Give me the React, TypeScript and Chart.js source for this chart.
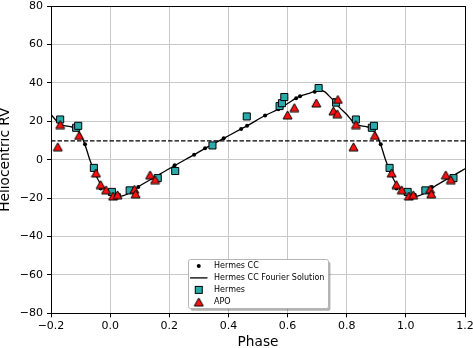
import React, { useEffect, useRef } from 'react';
import { Chart, registerables } from 'chart.js';

Chart.register(...registerables);

const xTickValues = [-0.2, 0, 0.2, 0.4, 0.6, 0.8, 1.0, 1.2];
const yTickValues = [-80, -60, -40, -20, 0, 20, 40, 60, 80];
const systemicRV = 9.8;

const ccPhase = [-0.085, -0.032, 0.03, 0.095, 0.218, 0.284, 0.321, 0.384, 0.443, 0.463, 0.524, 0.569, 0.629, 0.642, 0.692, 0.757, 0.915, 0.968, 1.03, 1.088];
const ccRV = [8.0, -15.0, -18.3, -14.2, -2.9, 2.6, 5.9, 11.1, 16.0, 17.6, 23.0, 26.3, 32.0, 33.0, 35.4, 31.0, 8.0, -15.0, -18.3, -14.2];

const fitPhase = [-0.2, -0.185, -0.17, -0.15, -0.13, -0.115, -0.1, -0.085, -0.07, -0.057, -0.045, -0.03, -0.013, 0.005, 0.022, 0.045, 0.07, 0.095, 0.15, 0.22, 0.284, 0.321, 0.384, 0.443, 0.463, 0.524, 0.569, 0.6, 0.629, 0.642, 0.67, 0.692, 0.71, 0.725, 0.74, 0.757, 0.775, 0.8, 0.815, 0.83, 0.85, 0.87, 0.885, 0.9, 0.915, 0.93, 0.943, 0.955, 0.97, 0.987, 1.005, 1.022, 1.045, 1.07, 1.095, 1.15, 1.2];
const fitRV = [23.5, 20.8, 18.6, 17.6, 17.0, 16.3, 13.0, 7.8, 0.5, -4.8, -9.2, -13.3, -16.2, -18.3, -19.2, -18.7, -17.0, -14.2, -9.2, -2.9, 2.6, 5.9, 11.1, 16.0, 17.6, 23.0, 26.3, 29.2, 32.0, 33.0, 34.4, 35.5, 36.0, 35.4, 33.2, 30.5, 27.2, 23.5, 20.8, 18.6, 17.6, 17.0, 16.3, 13.0, 7.8, 0.5, -4.8, -9.2, -13.3, -16.2, -18.3, -19.2, -18.7, -17.0, -14.2, -9.2, -4.8];

const hermesPhase = [-0.169, -0.115, -0.108, -0.055, 0.006, 0.066, 0.161, 0.22, 0.346, 0.462, 0.573, 0.581, 0.589, 0.705, 0.764, 0.831, 0.885, 0.892, 0.945, 1.006, 1.066, 1.161];
const hermesRV = [20.9, 16.6, 17.6, -4.3, -16.8, -16.0, -9.6, -5.9, 7.4, 22.5, 27.9, 29.4, 32.6, 37.3, 29.7, 20.9, 16.6, 17.6, -4.3, -16.8, -16.0, -9.6];

const apoPhase = [-0.177, -0.169, -0.105, -0.048, -0.032, -0.014, 0.01, 0.025, 0.082, 0.086, 0.135, 0.152, 0.6, 0.623, 0.697, 0.755, 0.768, 0.77, 0.823, 0.831, 0.895, 0.952, 0.968, 0.986, 1.01, 1.025, 1.082, 1.086, 1.135, 1.152];
const apoRV = [6.7, 18.3, 12.6, -6.9, -13.0, -15.7, -18.9, -18.3, -15.4, -17.8, -7.9, -10.4, 23.3, 27.1, 29.5, 25.4, 23.9, 31.4, 6.7, 18.3, 12.6, -6.9, -13.0, -15.7, -18.9, -18.3, -15.4, -17.8, -7.9, -10.4];

const legendLabels = ['Hermes CC', 'Hermes CC Fourier Solution', 'Hermes', 'APO'];

const FONT = "'DejaVu Sans', 'Liberation Sans', sans-serif";
const TEAL = '#2aaaaa';
const RED = '#ff1010';

function makeTriangle(): HTMLCanvasElement {
  const c = document.createElement('canvas');
  c.width = 11;
  c.height = 10;
  const g = c.getContext('2d')!;
  g.beginPath();
  g.moveTo(5.5, 1);
  g.lineTo(10, 9);
  g.lineTo(1, 9);
  g.closePath();
  g.fillStyle = RED;
  g.fill();
  g.lineWidth = 1;
  g.strokeStyle = '#000';
  g.lineJoin = 'miter';
  g.stroke();
  return c;
}

const zip = (xs: number[], ys: number[]) => xs.map((x, i) => ({ x, y: ys[i] }));
const fmt = (v: number, d: number) => {
  const s = Math.abs(v).toFixed(d);
  return v < -1e-9 ? '\u2212' + s : s;
};

export default function App() {
  const ref = useRef<HTMLCanvasElement | null>(null);

  useEffect(() => {
    if (!ref.current) return;
    const tri = makeTriangle();

    const spinePlugin = {
      id: 'spines',
      afterDatasetsDraw(chart: any) {
        const { ctx, chartArea: a } = chart;
        const al = (p: number) => Math.round(p - 0.5) + 0.5;
        ctx.save();
        ctx.strokeStyle = '#000';
        ctx.lineWidth = 1;
        const l = al(a.left), r = al(a.right), t = al(a.top), b = al(a.bottom);
        ctx.strokeRect(l, t, r - l, b - t);
        ctx.restore();
      },
    };

    const legendPlugin = {
      id: 'mplLegend',
      afterDraw(chart: any) {
        const { ctx, chartArea: a } = chart;
        ctx.save();
        ctx.font = `8px ${FONT}`;
        const textW = Math.max(...legendLabels.map((l) => ctx.measureText(l).width));
        const padL = 2, handleLen = 17.4, gap = 6.6, padR = 3.5;
        const w = padL + handleLen + gap + textW + padR;
        const h = 49;
        const x0 = (a.left + a.right) / 2 - w / 2;
        const y0 = a.bottom - 5 - h;
        // shadow
        ctx.fillStyle = 'rgba(0,0,0,0.3)';
        ctx.beginPath();
        ctx.roundRect(x0 + 2.5, y0 + 2.5, w, h, 2);
        ctx.fill();
        // box
        ctx.fillStyle = '#ffffff';
        ctx.strokeStyle = '#b5b5b5';
        ctx.lineWidth = 1;
        ctx.beginPath();
        ctx.roundRect(Math.round(x0) + 0.5, Math.round(y0) + 0.5, Math.round(w), Math.round(h), 2);
        ctx.fill();
        ctx.stroke();
        const hx = x0 + padL + handleLen / 2;
        const tx = x0 + padL + handleLen + gap;
        legendLabels.forEach((label, i) => {
          const cy = y0 + 6.6 + i * 12;
          if (i === 0) {
            ctx.fillStyle = '#000';
            ctx.beginPath();
            ctx.arc(hx, cy, 2, 0, Math.PI * 2);
            ctx.fill();
          } else if (i === 1) {
            ctx.strokeStyle = '#000';
            ctx.lineWidth = 1.3;
            ctx.beginPath();
            ctx.moveTo(x0 + padL, cy);
            ctx.lineTo(x0 + padL + handleLen, cy);
            ctx.stroke();
          } else if (i === 2) {
            ctx.fillStyle = TEAL;
            ctx.strokeStyle = '#000';
            ctx.lineWidth = 1;
            ctx.fillRect(hx - 3.5, cy - 3.5, 7, 7);
            ctx.strokeRect(hx - 3.5, cy - 3.5, 7, 7);
          } else {
            ctx.drawImage(tri, hx - tri.width / 2, cy - tri.height / 2);
          }
          ctx.fillStyle = '#000';
          ctx.textAlign = 'left';
          ctx.textBaseline = 'middle';
          ctx.fillText(label, tx, cy + 0.5);
        });
        ctx.restore();
      },
    };

    const chart = new Chart(ref.current, {
      type: 'scatter',
      data: {
        datasets: [
          {
            label: 'APO',
            data: zip(apoPhase, apoRV),
            pointStyle: tri as any,
            pointRadius: 5,
            showLine: false,
            order: 0,
          },
          {
            label: 'Hermes',
            data: zip(hermesPhase, hermesRV),
            pointStyle: 'rect',
            pointRadius: 5,
            backgroundColor: TEAL,
            borderColor: '#000',
            borderWidth: 1,
            showLine: false,
            order: 1,
          },
          {
            label: 'Hermes CC Fourier Solution',
            data: zip(fitPhase, fitRV),
            showLine: true,
            pointRadius: 0,
            borderColor: '#000',
            borderWidth: 1.3,
            cubicInterpolationMode: 'monotone',
            order: 2,
          } as any,
          {
            label: 'Hermes CC',
            data: zip(ccPhase, ccRV),
            pointStyle: 'circle',
            pointRadius: 2,
            backgroundColor: '#000',
            borderColor: '#000',
            borderWidth: 0,
            showLine: false,
            order: 3,
          },
          {
            label: 'systemic',
            data: [
              { x: xTickValues[0], y: systemicRV },
              { x: xTickValues[xTickValues.length - 1], y: systemicRV },
            ],
            showLine: true,
            pointRadius: 0,
            borderColor: '#000',
            borderWidth: 1.2,
            borderDash: [4.5, 2],
            order: 4,
          },
        ],
      },
      options: {
        animation: false,
        responsive: true,
        maintainAspectRatio: false,
        events: [],
        layout: { padding: { top: 4.7, right: 8, bottom: 0, left: 0 } },
        plugins: { legend: { display: false }, tooltip: { enabled: false } },
        scales: {
          x: {
            type: 'linear',
            min: xTickValues[0],
            max: xTickValues[xTickValues.length - 1],
            afterBuildTicks: (s: any) => {
              s.ticks = xTickValues.map((v) => ({ value: v }));
            },
            afterFit: (s: any) => {
              s.height = 34.7;
              s.paddingLeft = 0;
              s.paddingRight = 0;
            },
            grid: { color: '#c8c8c8', lineWidth: 1, tickColor: '#000', tickLength: 4, drawTicks: true },
            border: { display: false },
            ticks: {
              color: '#000',
              padding: 2,
              maxRotation: 0,
              autoSkip: false,
              font: { family: FONT, size: 11 },
              callback: (v: any) => fmt(Number(v), 1),
            },
            title: {
              display: true,
              text: 'Phase',
              color: '#000',
              font: { family: FONT, size: 13.7, lineHeight: 1.2 },
              padding: { top: 0, bottom: -2.9 },
            },
          },
          y: {
            type: 'linear',
            min: yTickValues[0],
            max: yTickValues[yTickValues.length - 1],
            afterBuildTicks: (s: any) => {
              s.ticks = yTickValues.map((v) => ({ value: v }));
            },
            afterFit: (s: any) => {
              s.width = 51;
              s.paddingTop = 0;
              s.paddingBottom = 0;
            },
            grid: { color: '#c8c8c8', lineWidth: 1, tickColor: '#000', tickLength: 4, drawTicks: true },
            border: { display: false },
            ticks: {
              color: '#000',
              padding: 4,
              autoSkip: false,
              font: { family: FONT, size: 11 },
              callback: (v: any) => fmt(Number(v), 0),
            },
            title: {
              display: true,
              text: 'Heliocentric RV',
              color: '#000',
              font: { family: FONT, size: 13.7, lineHeight: 1.2 },
              padding: { top: -2.4, bottom: 0 },
            },
          },
        },
      } as any,
      plugins: [spinePlugin, legendPlugin],
    });

    return () => chart.destroy();
  }, []);

  return (
    <div style={{ position: 'fixed', left: 0, top: 0, width: 473, height: 348, background: '#fff' }}>
      <canvas ref={ref} />
    </div>
  );
}
